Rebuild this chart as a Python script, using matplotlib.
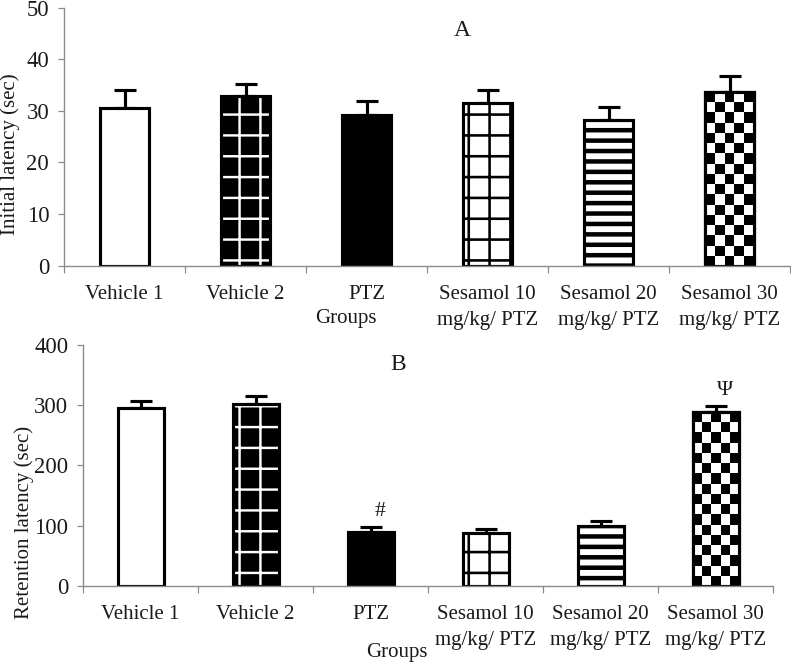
import numpy as np
import matplotlib
matplotlib.use("Agg")
import matplotlib.pyplot as plt

# ---------------- data ----------------
groups = ["Vehicle 1", "Vehicle 2", "PTZ",
          "Sesamol 10\nmg/kg/ PTZ", "Sesamol 20\nmg/kg/ PTZ", "Sesamol 30\nmg/kg/ PTZ"]
initial_mean = [30.6, 32.8, 29.3, 31.5, 28.2, 33.7]
initial_err = [3.4, 2.5, 2.7, 2.5, 2.6, 3.0]
retention_mean = [296, 302, 90, 88, 99, 289]
retention_err = [11, 13, 8, 7, 8, 10]
retention_marks = {2: "#", 5: "\u03a8"}
patterns = ["white", "whitegrid", "black", "grid", "stripes", "checker"]

DPI = 125
W, H = 791, 663
plt.rcParams["font.family"] = ["Liberation Serif", "DejaVu Serif"]
plt.rcParams["font.size"] = 12
TXT = "#1a1a1a"
SPINE = "#8a8a8a"

fig = plt.figure(figsize=(W / DPI, H / DPI), dpi=DPI)


def px2fig(x, y):
    return x / W, 1 - y / H


def set_hlw(p, lw):
    if hasattr(p, "set_hatch_linewidth"):
        p.set_hatch_linewidth(lw)


def draw_panel(ax, means, errs, ymax, ystep, tickpad):
    x = np.arange(len(means))
    ax.set_xlim(-0.5, len(means) - 0.5)
    ax.set_ylim(0, ymax)
    ax.set_autoscale_on(False)
    width = 0.4
    edge_lw = 1.8
    for i, (m, pat) in enumerate(zip(means, patterns)):
        if pat == "white":
            ax.bar(x[i], m, width, facecolor="white", edgecolor="black", linewidth=edge_lw, zorder=2)
        elif pat == "black":
            ax.bar(x[i], m, width, facecolor="black", edgecolor="black", linewidth=edge_lw, zorder=2)
        elif pat == "whitegrid":
            with plt.rc_context({"hatch.linewidth": 1.4}):
                b = ax.bar(x[i], m, width, facecolor="black", edgecolor="white", linewidth=0,
                           hatch="+", zorder=2)
            for p in b:
                set_hlw(p, 1.4)
            ax.bar(x[i], m, width, facecolor="none", edgecolor="black", linewidth=edge_lw, zorder=3)
        elif pat == "grid":
            with plt.rc_context({"hatch.linewidth": 1.5}):
                b = ax.bar(x[i], m, width, facecolor="white", edgecolor="black", linewidth=edge_lw,
                           hatch="+", zorder=2)
            for p in b:
                set_hlw(p, 1.5)
        elif pat == "stripes":
            with plt.rc_context({"hatch.linewidth": 2.6}):
                b = ax.bar(x[i], m, width, facecolor="white", edgecolor="black", linewidth=edge_lw,
                           hatch="--", zorder=2)
            for p in b:
                set_hlw(p, 2.6)
        elif pat == "checker":
            b = ax.bar(x[i], m, width, facecolor="white", edgecolor="black", linewidth=edge_lw, zorder=2)
            ax.bar(x[i], m, width, facecolor="none", edgecolor="black", linewidth=edge_lw, zorder=4)
            p = b[0]
            x0, y0 = p.get_x(), p.get_y()
            x1, y1 = x0 + p.get_width(), y0 + p.get_height()
            (px0, py0), (px1, py1) = ax.transData.transform([(x0, y0), (x1, y1)])
            ncols = max(1, int(round((px1 - px0) / 10.0)))
            nrows = max(1, int(round((py1 - py0) / 10.3)))
            checker = (np.add.outer(np.arange(nrows), np.arange(ncols)) % 2).astype(float)
            im = ax.imshow(checker, cmap="gray", vmin=0, vmax=1, extent=(x0, x1, y0, y1),
                           origin="lower", interpolation="nearest", aspect="auto", zorder=3)
            im.set_clip_path(p)
    ax.errorbar(x, means, yerr=[np.zeros(len(means)), errs], fmt="none", ecolor="black",
                elinewidth=1.8, capsize=6.5, capthick=1.8, zorder=1)
    ax.set_xlim(-0.5, len(means) - 0.5)
    ax.set_ylim(0, ymax)
    ax.set_yticks(np.arange(0, ymax + 1, ystep))
    ax.set_xticks(x)
    ax.set_xticklabels(groups, color=TXT, va="top")
    for t in ax.get_xticklabels():
        t.set_linespacing(1.55)
    ax.set_xticks(np.arange(-0.5, len(means), 1.0), minor=True)
    ax.tick_params(axis="x", which="major", length=0, pad=tickpad, labelsize=12)
    ax.tick_params(axis="x", which="minor", length=4, width=0.7, color=SPINE, direction="out")
    ax.tick_params(axis="y", length=3.5, width=0.7, color=SPINE, labelsize=13, labelcolor=TXT,
                   pad=5)
    for s in ["top", "right"]:
        ax.spines[s].set_visible(False)
    for s in ["left", "bottom"]:
        ax.spines[s].set_color(SPINE)
        ax.spines[s].set_linewidth(0.8)
        ax.spines[s].set_zorder(5)
    ax.set_facecolor("none")
    return x


# Panel A
l, b = px2fig(64, 265.7)
r, t = px2fig(790, 7.7)
axA = fig.add_axes([l, b, r - l, t - b])
draw_panel(axA, initial_mean, initial_err, 50, 10, 11)

# Panel B
l, b = px2fig(83, 585.7)
r, t = px2fig(773, 345)
axB = fig.add_axes([l, b, r - l, t - b])
xb = draw_panel(axB, retention_mean, retention_err, 400, 100, 11)
for i, s in retention_marks.items():
    axB.text(xb[i] + 0.08, retention_mean[i] + retention_err[i] + 10, s, ha="center",
             va="bottom", fontsize=12.5, color=TXT)

# Panel letters, axis titles
fig.text(*px2fig(462, 30), "A", ha="center", va="center", fontsize=13.5, color=TXT)
fig.text(*px2fig(398, 365), "B", ha="center", va="center", fontsize=13.5, color=TXT)
fig.text(*px2fig(346, 318), "Groups", ha="center", va="center", fontsize=12, color=TXT)
fig.text(*px2fig(397, 652), "Groups", ha="center", va="center", fontsize=12, color=TXT)
fig.text(*px2fig(10, 154), "Initial latency (sec)", rotation=90, ha="center", va="center",
         fontsize=12, color=TXT)
fig.text(*px2fig(24, 522), "Retention latency (sec)", rotation=90, ha="center", va="center",
         fontsize=12, color=TXT)

fig.savefig("out.png", dpi=DPI, facecolor="white")
